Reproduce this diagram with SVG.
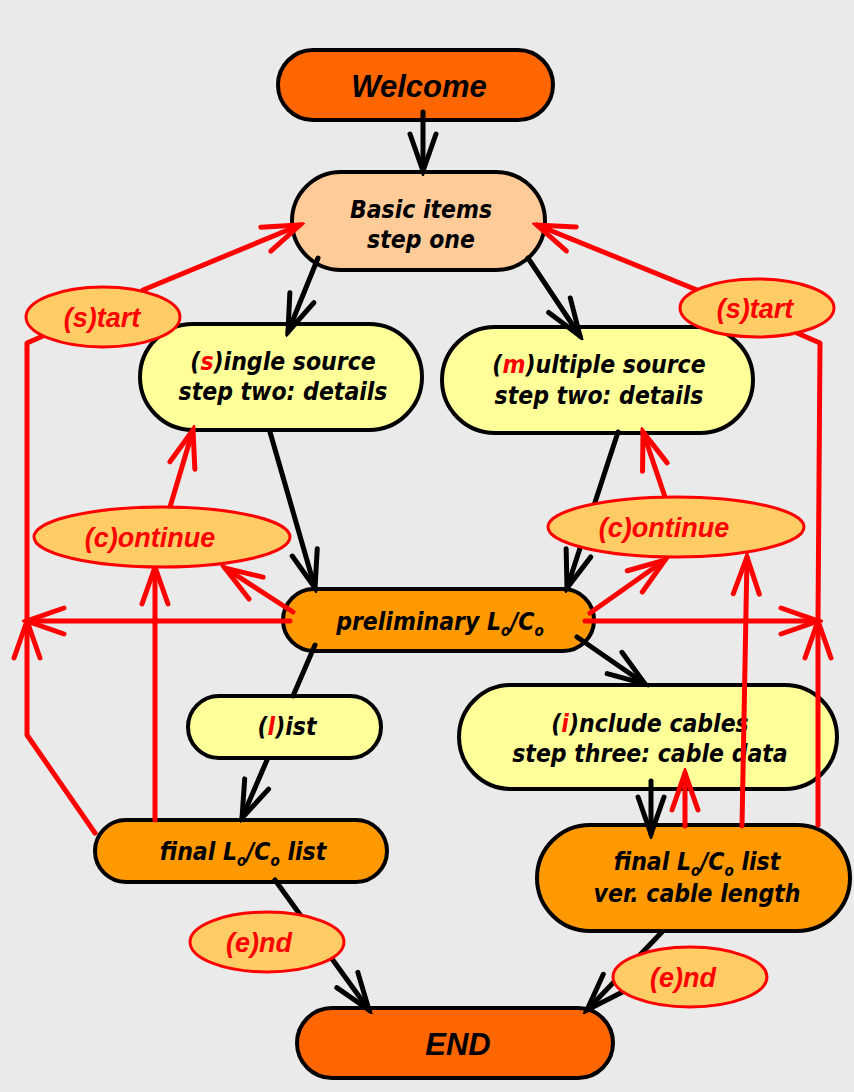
<svg xmlns="http://www.w3.org/2000/svg" width="854" height="1092" viewBox="0 0 854 1092">
<style>
.box{stroke:#000;stroke-width:4}
.lbl{fill:#FFCC66;stroke:#FF0000;stroke-width:3}
.t{font-family:"DejaVu Sans",Verdana,sans-serif;font-stretch:condensed;font-weight:bold;font-style:italic;font-size:24.5px;fill:#000;text-anchor:middle}
.big{font-family:"Liberation Sans",Arial,sans-serif;font-weight:bold;font-style:italic;font-size:31px;fill:#000;text-anchor:middle}
.rt{font-family:"Liberation Sans",Arial,sans-serif;font-weight:bold;font-style:italic;font-size:27px;fill:#FF0000;text-anchor:middle}
.r{fill:#FF0000}
.sub{font-size:15px}
.bk{fill:none;stroke:#000;stroke-width:5;stroke-linecap:round;stroke-linejoin:round}
.rd{fill:none;stroke:#FF0000;stroke-width:5;stroke-linecap:round;stroke-linejoin:round}
</style>
<defs>
<marker id="ab" viewBox="-45 -20 50 40" markerWidth="50" markerHeight="40" refX="0" refY="0" orient="auto" markerUnits="userSpaceOnUse">
<path d="M-37,-13 L0,0 L-37,13" fill="none" stroke="#000" stroke-width="5" stroke-linecap="round" stroke-linejoin="miter"/>
</marker>
<marker id="ar" viewBox="-45 -20 50 40" markerWidth="50" markerHeight="40" refX="0" refY="0" orient="auto" markerUnits="userSpaceOnUse">
<path d="M-37,-13 L0,0 L-37,13" fill="none" stroke="#FF0000" stroke-width="5" stroke-linecap="round" stroke-linejoin="miter"/>
</marker>
</defs>
<rect width="854" height="1092" fill="#EAEAEA"/>

<g id="welcome">
<rect class="box" x="278" y="50" width="275" height="70" rx="35" fill="#FF6600"/>
<text class="big" x="419" y="97">Welcome</text>
</g>
<g id="basic">
<rect class="box" x="292" y="172" width="253" height="98" rx="49" fill="#FFCC99"/>
<text class="t" x="421" y="218">Basic items</text>
<text class="t" x="421" y="248">step one</text>
</g>
<g id="single">
<rect class="box" x="140" y="324" width="282" height="106" rx="53" fill="#FFFF99"/>
<text class="t" x="283" y="370">(<tspan class="r">s</tspan>)ingle source</text>
<text class="t" x="283" y="400">step two: details</text>
</g>
<g id="multiple">
<rect class="box" x="442" y="327" width="311" height="106" rx="53" fill="#FFFF99"/>
<text class="t" x="599" y="373">(<tspan class="r">m</tspan>)ultiple source</text>
<text class="t" x="599" y="404">step two: details</text>
</g>
<g id="preliminary">
<rect class="box" x="283" y="589" width="311" height="62" rx="31" fill="#FF9900"/>
<text class="t" x="440" y="630">preliminary L<tspan class="sub" dy="6">o</tspan><tspan dy="-6">/C</tspan><tspan class="sub" dy="6">o</tspan></text>
</g>
<g id="list">
<rect class="box" x="188" y="696" width="193" height="62" rx="31" fill="#FFFF99"/>
<text class="t" x="287" y="735">(<tspan class="r">l</tspan>)ist</text>
</g>
<g id="final-left">
<rect class="box" x="95" y="820" width="292" height="62" rx="31" fill="#FF9900"/>
<text class="t" x="243" y="860">final L<tspan class="sub" dy="6">o</tspan><tspan dy="-6">/C</tspan><tspan class="sub" dy="6">o</tspan><tspan dy="-6"> list</tspan></text>
</g>
<g id="include">
<rect class="box" x="459" y="685" width="378" height="104" rx="52" fill="#FFFF99"/>
<text class="t" x="650" y="732">(<tspan class="r">i</tspan>)nclude cables</text>
<text class="t" x="650" y="762">step three: cable data</text>
</g>
<g id="final-right">
<rect class="box" x="537" y="825" width="313" height="106" rx="53" fill="#FF9900"/>
<text class="t" x="697" y="870">final L<tspan class="sub" dy="6">o</tspan><tspan dy="-6">/C</tspan><tspan class="sub" dy="6">o</tspan><tspan dy="-6"> list</tspan></text>
<text class="t" x="697" y="902">ver. cable length</text>
</g>
<g id="end">
<rect class="box" x="297" y="1008" width="316" height="70" rx="35" fill="#FF6600"/>
<text class="big" x="458" y="1055">END</text>
</g>

<g id="connectors">
<path class="bk" d="M423,112 L423,171" marker-end="url(#ab)"/>
<path class="bk" d="M318,258 L288,332" marker-end="url(#ab)"/>
<path class="bk" d="M528,258 L580,336" marker-end="url(#ab)"/>
<path class="bk" d="M270,432 L315,588" marker-end="url(#ab)"/>
<path class="bk" d="M618,432 L567,588" marker-end="url(#ab)"/>
<path class="bk" d="M315,645 L293,696"/>
<path class="bk" d="M267,760 L242,818" marker-end="url(#ab)"/>
<path class="bk" d="M577,637 L645,684" marker-end="url(#ab)"/>
<path class="bk" d="M651,781 L651,834" marker-end="url(#ab)"/>
<path class="bk" d="M275,880 L369,1010" marker-end="url(#ab)"/>
<path class="bk" d="M662,932 L587,1010" marker-end="url(#ab)"/>

<path class="rd" d="M143,290 L300,225" marker-end="url(#ar)"/>
<path class="rd" d="M697,290 L537,225" marker-end="url(#ar)"/>
<path class="rd" d="M95,833 L27,735 L27,621" marker-end="url(#ar)"/>
<path class="rd" d="M27,621 L27,343 L43,336"/>
<path class="rd" d="M290,621 L27,621" marker-end="url(#ar)"/>
<path class="rd" d="M155,820 L155,567" marker-end="url(#ar)"/>
<path class="rd" d="M293,612 L225,568" marker-end="url(#ar)"/>
<path class="rd" d="M170,507 L193,430" marker-end="url(#ar)"/>
<path class="rd" d="M585,621 L818,621" marker-end="url(#ar)"/>
<path class="rd" d="M818,825 L818,621" marker-end="url(#ar)"/>
<path class="rd" d="M818,621 L820,343 L797,333"/>
<path class="rd" d="M590,613 L665,560" marker-end="url(#ar)"/>
<path class="rd" d="M665,497 L643,432" marker-end="url(#ar)"/>
<path class="rd" d="M742,826 L747,557" marker-end="url(#ar)"/>
<path class="rd" d="M685,826 L685,773" marker-end="url(#ar)"/>
</g>

<g id="start-left">
<ellipse class="lbl" cx="103" cy="317" rx="77" ry="30"/>
<text class="rt" x="102" y="327">(s)tart</text>
</g>
<g id="start-right">
<ellipse class="lbl" cx="757" cy="308" rx="77" ry="29"/>
<text class="rt" x="755" y="318">(s)tart</text>
</g>
<g id="continue-left">
<ellipse class="lbl" cx="162" cy="537" rx="128" ry="30"/>
<text class="rt" x="150" y="547">(c)ontinue</text>
</g>
<g id="continue-right">
<ellipse class="lbl" cx="676" cy="527" rx="128" ry="30"/>
<text class="rt" x="664" y="537">(c)ontinue</text>
</g>
<g id="end-left">
<ellipse class="lbl" cx="267" cy="942" rx="77" ry="30"/>
<text class="rt" x="259" y="952">(e)nd</text>
</g>
<g id="end-right">
<ellipse class="lbl" cx="690" cy="977" rx="77" ry="30"/>
<text class="rt" x="683" y="987">(e)nd</text>
</g>
</svg>
